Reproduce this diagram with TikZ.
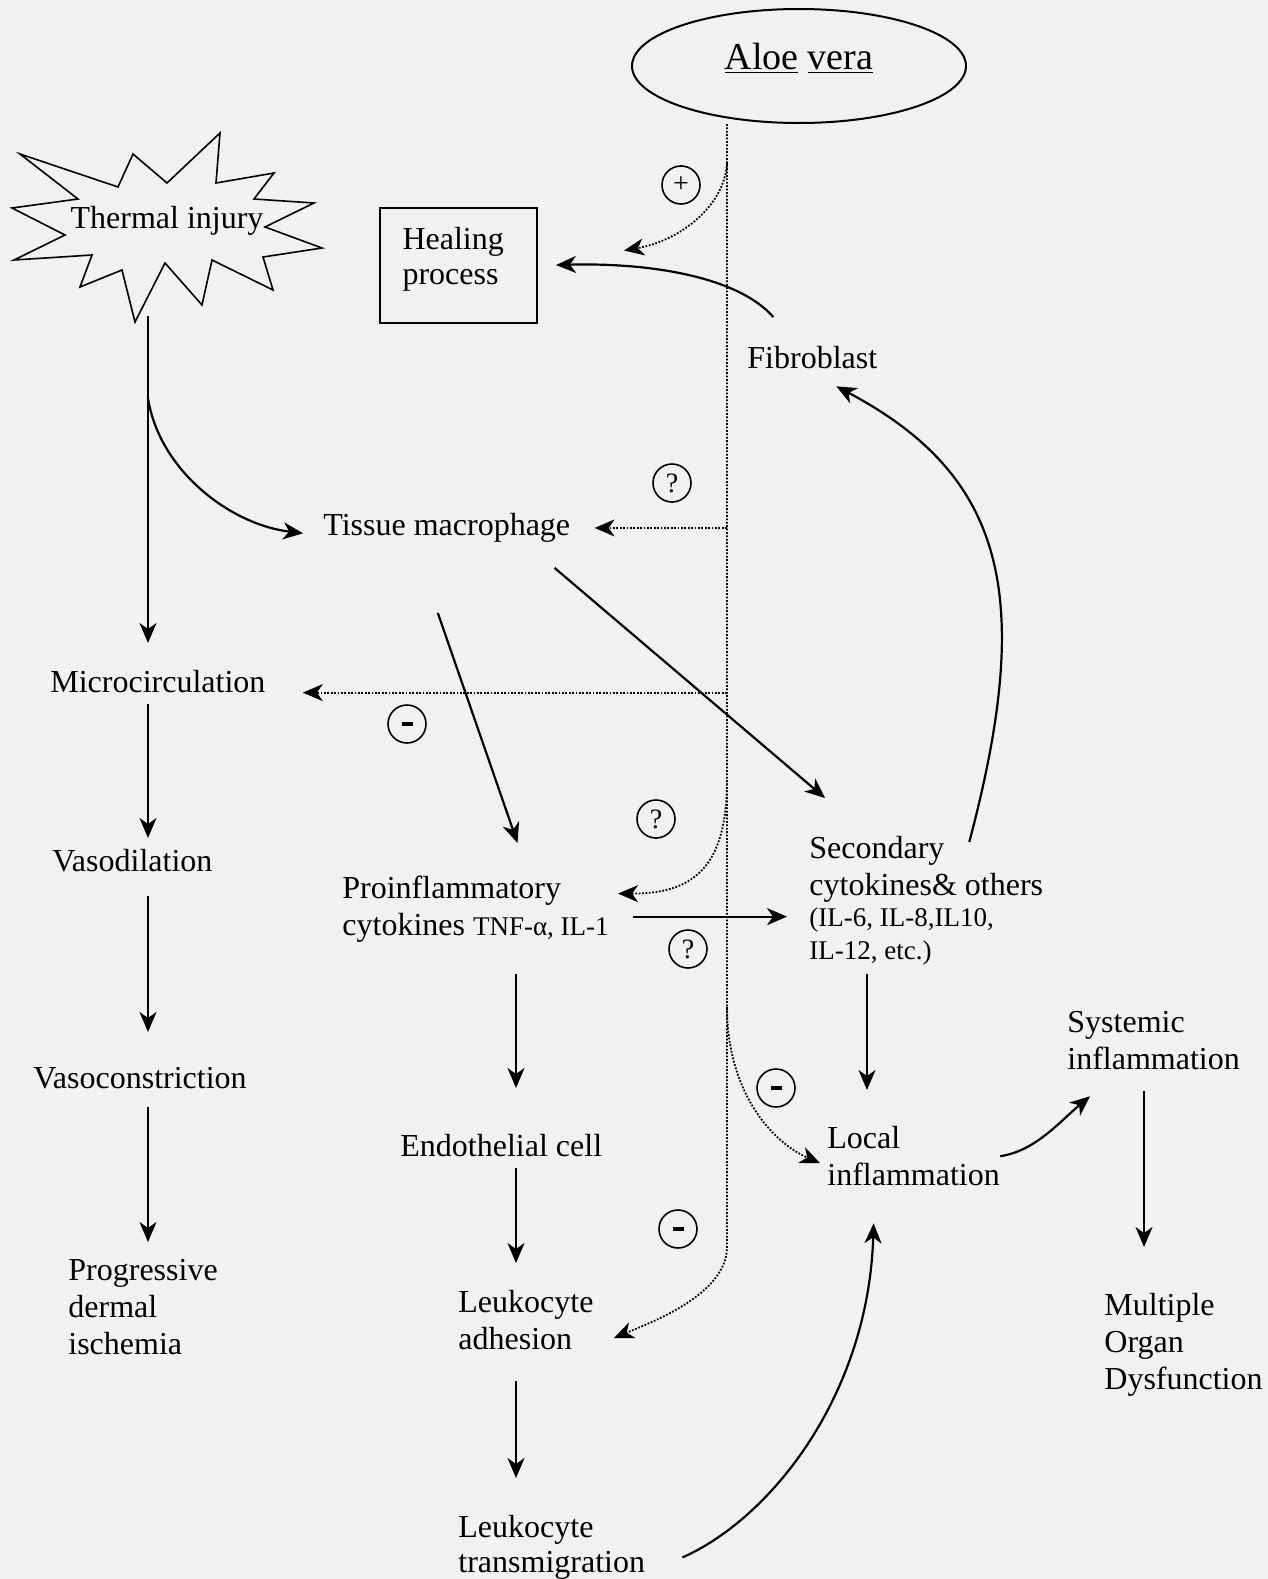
\documentclass[tikz,border=0pt]{standalone}
\usepackage{fontspec}
\setmainfont{Liberation Serif}
\usetikzlibrary{arrows.meta, shapes.geometric}
\definecolor{scanpaper}{RGB}{241,241,241}
\newcommand{\bodysz}{\fontsize{16}{18.5}\selectfont}
\newcommand{\smallsz}{\fontsize{13.5}{15.5}\selectfont}
\newcommand{\minusbar}{\rule{5.5pt}{2pt}}

\begin{document}
\begin{tikzpicture}[x=0.5pt, y=-0.5pt,
		txt/.style={font=\bodysz, align=left, anchor=north west, inner sep=0pt},
		flow/.style={-{Stealth[length=10pt, width=8.5pt, inset=3pt]}, line width=1.1pt},
		hint/.style={-{Stealth[length=10pt, width=8.5pt, inset=3pt]}, line width=0.9pt, dash pattern=on 0.9pt off 0.8pt},
		sign/.style={draw, circle, line width=0.8pt, minimum size=19pt, inner sep=0pt, font=\fontsize{14}{14}\selectfont}]

			% --- Paper ---
			\fill[scanpaper] (0,0) rectangle (1268,1579);
			\useasboundingbox (0,0) rectangle (1268,1579);

			% Columns of the vertical arrows
			\coordinate (lspine) at (148,0);
			\coordinate (cspine) at (516,0);
			\coordinate (spine)  at (727,0);
			\coordinate (rspine) at (867,0);
			\coordinate (fspine) at (1144,0);

			% --- Top: Aloe vera, thermal injury, healing ---
			\node[draw, ellipse, line width=1pt, minimum width=167pt, minimum height=57pt, inner sep=0pt,
				text height=8pt, text depth=5pt, font=\fontsize{19}{19}\selectfont] (aloe) at (799,66) {\underline{Aloe} \underline{vera}};

			\draw[line width=0.8pt, line join=miter] (20,154) -- (118,187) -- (133,154) -- (167,183) -- (220,133)
				-- (216,183) -- (274,173) -- (254,199) -- (314,203) -- (265,227) -- (322,248) -- (263,257)
				-- (273,290) -- (212,260) -- (202,305) -- (165,263) -- (135,322) -- (122,270) -- (80,287)
				-- (92,255) -- (14,260) -- (65,235) -- (12,208) -- (78,199) -- cycle;
			\node[font=\bodysz, anchor=base, inner sep=0pt] (thermal) at (167,228) {Thermal injury};
			\coordinate (burst) at (148,316);
			\coordinate (fork)  at (148,398);

			\node[draw, line width=1pt, minimum width=78.5pt, minimum height=57.5pt, text width=56pt, align=left,
				inner sep=0pt, font=\fontsize{16}{17.5}\selectfont] (heal) at (458.5,265.5) {Healing\\process\rule[-9.5pt]{0pt}{1pt}};

			% --- Cells and mediators ---
			\node[txt] (fibro)    at (747,346)  {Fibroblast};
			\node[txt] (tissue)   at (323,513)  {Tissue macrophage};
			\node[txt] (micro)    at (50,670)   {Microcirculation};
			\node[txt] (vasodil)  at (52,849)   {Vasodilation};
			\node[txt] (vasocon)  at (33,1067)  {Vasoconstriction};
			\node[txt] (ischemia) at (68,1259)  {Progressive\\dermal\\ischemia};
			\node[txt] (proinfl)  at (342,876)  {Proinflammatory\\cytokines {\smallsz TNF-α, IL-1}};
			\node[txt] (second)   at (809,836)  {Secondary\\cytokines\& others\\[-3pt]{\smallsz (IL-6, IL-8,IL10,}\\[-2pt]{\smallsz IL-12, etc.)}};
			\node[txt] (endo)     at (400,1134) {Endothelial cell};
			\node[txt] (adhes)    at (458,1290) {Leukocyte\\adhesion};
			\node[txt] (transm)   at (458,1515) {Leukocyte\\[-1pt]transmigration};
			\node[txt] (local)    at (827,1126) {Local\\inflammation};
			\node[txt] (systemic) at (1067,1011) {Systemic\\inflammation};
			\node[txt] (organ)    at (1104,1293) {Multiple\\Organ\\Dysfunction};

			% Effect signs
			\node[sign] (plus)   at (681,185)  {+};
			\node[sign] (qtm)    at (672,483)  {?};
			\node[sign] (mmicro) at (407,724)  {\minusbar};
			\node[sign] (qpro)   at (656,819)  {?};
			\node[sign] (qsec)   at (688,949)  {?};
			\node[sign] (mlocal) at (776,1088) {\minusbar};
			\node[sign] (madh)   at (678,1229) {\minusbar};

			% --- Left: microcirculation cascade ---
			\draw[flow, shorten >=13.5pt] (burst) -- (micro.north -| lspine);
			\draw[flow, shorten >=10pt] (fork) .. controls +(11,72) and +(-93,-11) .. (tissue.base west);
			\draw[flow, shorten <=5.5pt, shorten >=5.5pt] (micro.south -| lspine) -- (vasodil.north -| lspine);
			\draw[flow, shorten <=12pt, shorten >=17.5pt] (vasodil.south -| lspine) -- (vasocon.north -| lspine);
			\draw[flow, shorten <=9pt, shorten >=8.5pt] (vasocon.south -| lspine) -- (ischemia.north -| lspine);

			% --- Middle: cytokine cascade ---
			\draw[flow] ([shift={(-9,70)}]tissue.south) -- ([shift={(42,-33)}]proinfl.north);
			\draw[flow] ([shift={(-16,25)}]tissue.south east) -- ([shift={(16,-38)}]second.north west);
			\draw[flow, shorten <=12pt, shorten >=11pt] ([yshift=-3.5pt]proinfl.east) -- ([yshift=-3.5pt]proinfl.east -| second.west);
			\draw[flow, shorten <=15.5pt, shorten >=23pt] (proinfl.south -| cspine) -- (endo.north -| cspine);
			\draw[flow, shorten <=5.5pt, shorten >=13.5pt] (endo.south -| cspine) -- (adhes.north -| cspine);
			\draw[flow, shorten <=15.5pt, shorten >=18.5pt] (adhes.south -| cspine) -- (transm.north -| cspine);

			% --- Right: inflammation and repair ---
			\draw[flow, shorten <=4pt, shorten >=18pt] (second.south -| rspine) -- (local.north -| rspine);
			\draw[flow] (local.east) .. controls +(35,-5) and +(-30,25) .. ([shift={(23,26)}]systemic.south west);
			\draw[flow, shorten <=10.5pt, shorten >=23pt] (systemic.south -| fspine) -- (organ.north -| fspine);
			\draw[flow] ([shift={(37,10)}]transm.east) .. controls +(90,-40) and +(-5,170) .. ([shift={(-40,37)}]local.south);
			\draw[flow] ([shift={(43,6)}]second.north) .. controls +(65,-245) and +(170,90) .. ([shift={(24,17)}]fibro.south);
			\draw[flow, shorten >=9pt] ([shift={(-39,-29)}]fibro.north) .. controls +(-35,-40) and +(113,-3) .. (heal.east);

			% --- Aloe vera actions (dotted) ---
			\draw[hint] (aloe.south -| spine) -- (spine |- 0,1247) .. controls +(0,48) and +(35,-15) .. ([shift={(20,18)}]adhes.east);
			\draw[hint] (spine |- 0,163) .. controls +(-2,42) and +(57,-10) .. ([shift={(86,-15)}]heal.east);
			\draw[hint, shorten >=12pt] (tissue.east -| spine) -- (tissue.east);
			\draw[hint, shorten >=18.5pt] (micro.base east -| spine) -- (micro.base east);
			\draw[hint] (spine |- 0,780) .. controls +(0,90) and +(73,0) .. ([shift={(9,-16)}]proinfl.east);
			\draw[hint] (spine |- 0,1007) .. controls +(0,83) and +(-50,-22) .. ([shift={(-7,7)}]local.west);
		\end{tikzpicture}
\end{document}
